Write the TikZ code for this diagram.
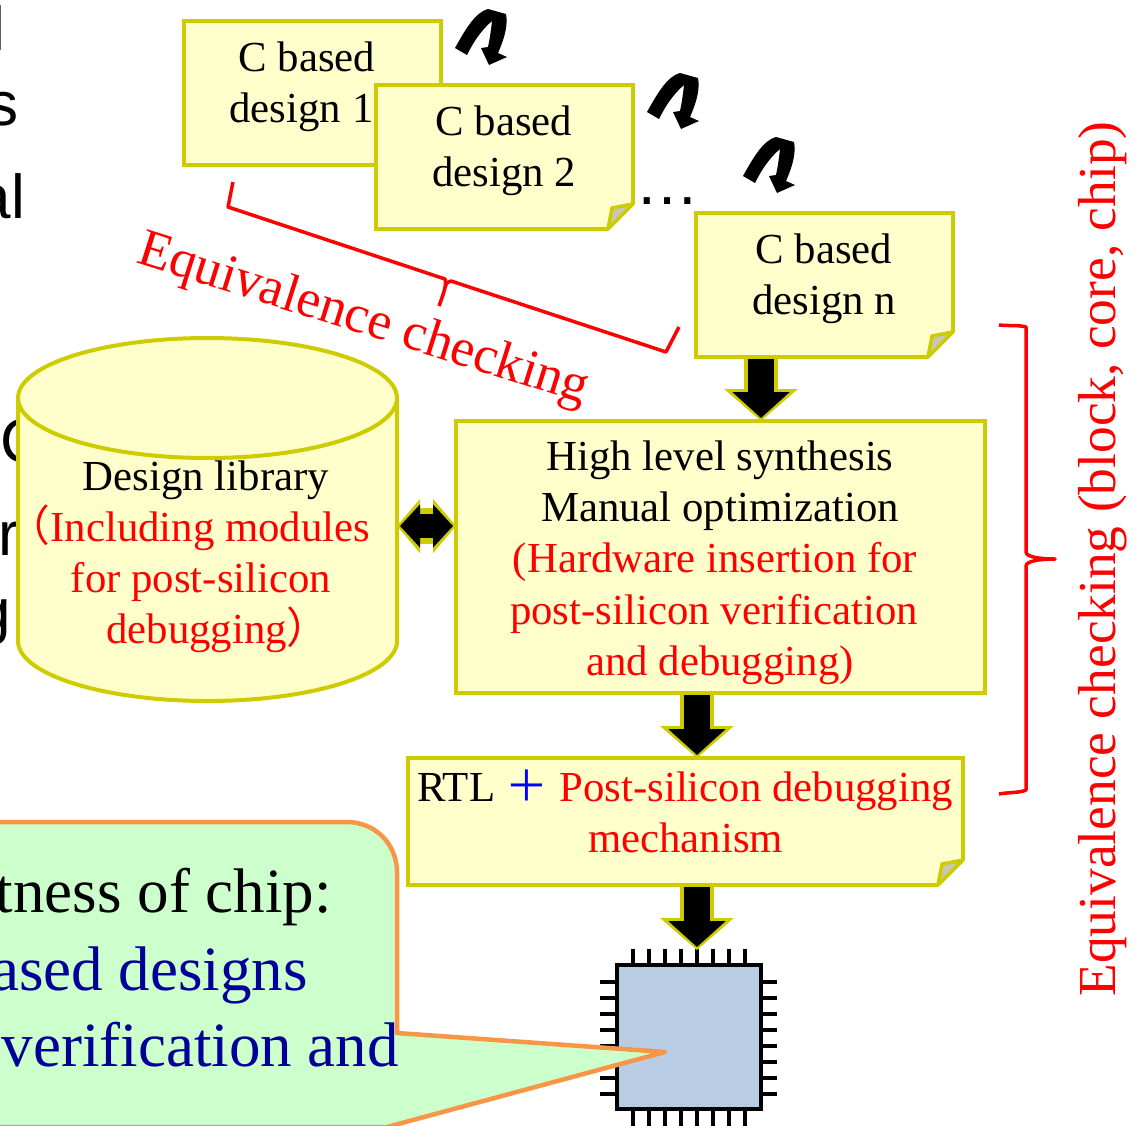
\documentclass[tikz,border=0pt]{standalone}
\usepackage{fontspec}
\setmainfont{Liberation Serif}
\setsansfont{Liberation Sans}
\newfontfamily\cjk{Noto Sans CJK SC}
\usetikzlibrary{arrows.meta}

\definecolor{rim}{HTML}{CCCC00}
\definecolor{paper}{HTML}{FFFFCC}
\definecolor{foldgrey}{HTML}{C8C8B0}
\definecolor{chipblue}{HTML}{B8CCE4}
\definecolor{bubble}{HTML}{CCFFCC}
\definecolor{bubbleline}{HTML}{F79646}
\definecolor{bubbletext}{HTML}{000099}

\tikzset{
	box/.style = {draw = rim, fill = paper, line width = 4pt, outer sep = 0pt, inner sep = 0pt},
	body/.style = {anchor = base, inner sep = 0pt, font = \fontsize{42.8pt}{51pt}\selectfont},
	redbody/.style = {body, text = red},
	eqtext/.style = {anchor = center, inner sep = 0pt, text = red, font = \fontsize{53.4pt}{60pt}\selectfont},
	large/.style = {anchor = base east, inner sep = 0pt, font = \fontsize{63pt}{70pt}\selectfont},
	cropped/.style = {anchor = base east, inner sep = 0pt, font = \sffamily\fontsize{62pt}{70pt}\selectfont},
	redline/.style = {draw = red, line width = 3.5pt},
	pin/.style = {line width = 3.5pt},
	turn/.pic = {
		\fill (455, 48) -- (467, 55) .. controls (476, 37) and (484, 28) .. (492, 21)
			.. controls (491, 30) and (490, 38) .. (488, 47) -- (481, 48) -- (489, 65) -- (507, 57) -- (498, 53)
			.. controls (505, 37) and (508, 25) .. (506, 14) -- (488, 9)
			.. controls (476, 12) and (466, 28) .. (455, 48) -- cycle;
	}
}

% block arrows: rim first, then the black core
\newcommand\blockarrow[2]{
	\draw [rim, line width = 34pt, -{Triangle[width = 72pt, length = 32pt]}] (#1) -- (#2);
	\draw [black, line width = 26pt, shorten > = 3pt, shorten < = 2pt, -{Triangle[width = 56pt, length = 26pt]}] (#1) -- (#2);
}
\newcommand\notefold[1]{
	\fill [white] ([xshift = -26pt, yshift = -3pt]#1.south east) -- ([xshift = 3pt, yshift = -3pt]#1.south east) -- ([xshift = 3pt, yshift = 26pt]#1.south east) -- cycle;
	\draw [rim, fill = foldgrey, line width = 3.5pt, line join = round] ([xshift = -25pt]#1.south east) -- ([xshift = -21pt, yshift = 21pt]#1.south east) -- ([yshift = 25pt]#1.south east) -- cycle;
}

\begin{document}
\begin{tikzpicture}[x = 1pt, y = -1pt]
	\useasboundingbox (0, 0) rectangle (1135, 1125);
	\clip (0, 0) rectangle (1135, 1125);

	% cut off text at the left edge
	\node [cropped] (cropa) at (5, 50) {l};
	\node [cropped] (cropb) at (19, 125) {s};
	\node [cropped] (cropc) at (25, 218) {al};
	\node [cropped] (cropd) at (45, 462) {C};
	\node [cropped] (crope) at (19, 555) {r};
	\node [cropped] (cropf) at (11, 632) {g};

	% C designs
	\node [box, minimum width = 257pt, minimum height = 144pt] (design1) at (312.5, 93) {};
	\node [body] (design1a) at (307, 71) {C based};
	\node [body] (design1b) at (301.5, 122) {design 1};

	\node [box, minimum width = 257pt, minimum height = 144pt] (design2) at (504.5, 157) {};
	\notefold{design2}
	\node [body] (design2a) at (504, 135) {C based};
	\node [body] (design2b) at (504, 186) {design 2};

	\node [body, font = \sffamily\fontsize{64pt}{64pt}\selectfont] (dots) at (667, 204) {…};

	\node [box, minimum width = 257pt, minimum height = 144pt] (designn) at (824.5, 285) {};
	\notefold{designn}
	\node [body] (designna) at (824, 263) {C based};
	\node [body] (designnb) at (824, 314) {design n};

	\foreach \s in {(0, 0), (192, 64), (288, 128)} {
		\pic at \s {turn};
	}

	% Equivalence checking over the designs
	\draw [redline, line join = round] (233, 182) -- (228, 207) -- (445, 279) .. controls (447, 285) and (443, 295) .. (439, 306);
	\draw [redline, line join = round] (445, 288) .. controls (446, 283) and (448, 281) .. (451, 281) -- (666, 352) -- (679, 327);
	\node [eqtext, rotate = -17.5] (eqdesign) at (363, 321) {Equivalence checking};

	% Design library
	\node [minimum width = 379pt, minimum height = 363pt, inner sep = 0pt, outer sep = 0pt] (library) at (207.5, 519.5) {};
	\draw [rim, fill = paper, line width = 4pt] (18, 398) -- (18, 641) arc [start angle = 180, end angle = 360, x radius = 189.5pt, y radius = 60pt] -- (397, 398) arc [start angle = 0, end angle = 180, x radius = 189.5pt, y radius = 60pt] -- cycle;
	\draw [rim, line width = 4pt] (18, 398) arc [start angle = 180, end angle = 360, x radius = 189.5pt, y radius = 60pt];
	\node [body] (librarya) at (206, 490) {Design library};
	\node [redbody] (libraryb) at (189, 541) {{\cjk （}Including modules};
	\node [redbody] (libraryc) at (201, 592) {for post-silicon};
	\node [redbody] (libraryd) at (218, 643) {debugging{\cjk ）}};

	% High level synthesis
	\node [box, minimum width = 529pt, minimum height = 272pt] (hls) at (720.5, 557) {};
	\node [body] (hlsa) at (720, 470) {High level synthesis};
	\node [body] (hlsb) at (720, 521) {Manual optimization};
	\node [redbody] (hlsc) at (715, 572) {(Hardware insertion for};
	\node [redbody] (hlsd) at (714, 624) {post-silicon verification};
	\node [redbody] (hlse) at (720, 675) {and debugging)};

	% RTL
	\node [box, minimum width = 555pt, minimum height = 127pt] (rtl) at (685.5, 821.5) {};
	\notefold{rtl}
	\node [body] (rtla) at (685, 801) {RTL {\color{blue}\cjk ＋} \textcolor{red}{Post-silicon debugging}};
	\node [redbody] (rtlb) at (685.5, 852) {mechanism};

	% chip
	\foreach \x in {633, 649, ..., 745} {
		\draw [pin] (\x, 949) -- (\x, 1130);
	}
	\foreach \y in {982, 998, ..., 1094} {
		\draw [pin] (600, \y) -- (777, \y);
	}
	\node [draw, fill = chipblue, line width = 4pt, outer sep = 0pt, inner sep = 0pt, minimum size = 144pt] (chip) at (689, 1037) {};

	% arrows
	\coordinate (hlsin) at (761, 421);
	\coordinate (rtlin) at (697, 758);
	\coordinate (chipin) at (697, 950);
	\blockarrow{hlsin |- designn.south}{hlsin}
	\blockarrow{rtlin |- hls.south}{rtlin}
	\blockarrow{chipin |- rtl.south}{chipin}

	\coordinate (libout) at (library.east |- 0, 526);
	\coordinate (hlsout) at (hls.west |- 0, 526);
	\draw [rim, line width = 36pt, {Triangle[width = 53pt, length = 23pt]}-{Triangle[width = 53pt, length = 23pt]}] (libout) -- (hlsout);
	\draw [black, line width = 24pt, shorten > = 3pt, shorten < = 3pt, {Triangle[width = 42pt, length = 20pt]}-{Triangle[width = 42pt, length = 20pt]}] (libout) -- (hlsout);

	% Equivalence checking over the flow
	\draw [redline, line join = round] (999, 325) .. controls (1010, 326) and (1020, 325) .. (1026, 327) -- (1026, 552) .. controls (1026, 557) and (1040, 559) .. (1055, 559)
		.. controls (1040, 559) and (1026, 561) .. (1026, 566) -- (1026, 790) .. controls (1020, 793) and (1010, 792) .. (999, 794);
	\node [eqtext, rotate = 90] (eqflow) at (1103, 559) {Equivalence checking (block, core, chip)};

	% callout
	\draw [draw = bubbleline, fill = bubble, line width = 4.5pt, line join = round] (-60, 822) -- (347, 822) .. controls (375, 822) and (397, 844) .. (397, 872) -- (397, 1033) -- (665, 1052) -- (387, 1127) -- (-60, 1127) -- cycle;
	\node [large] (calla) at (332, 912) {tness of chip:};
	\node [large, text = bubbletext] (callb) at (308, 990) {ased designs};
	\node [large, text = bubbletext] (callc) at (399, 1066) {verification and};
\end{tikzpicture}
\end{document}
